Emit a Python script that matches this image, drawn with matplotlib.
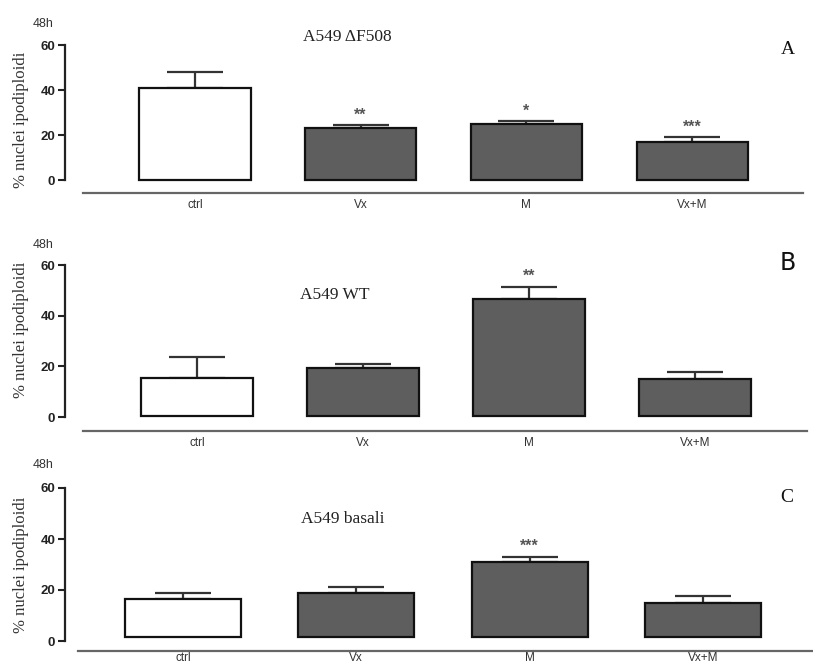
import matplotlib
matplotlib.use('Agg')
import matplotlib.pyplot as plt
import numpy as np

# data (48h, % hypodiploid nuclei)
categories = ['ctrl', 'Vx', 'M', 'Vx+M']
titles = ['A549 \u0394F508', 'A549 WT', 'A549 basali']
letters = ['A', 'B', 'C']

means_a = [40.8, 23.0, 24.8, 17.0]
err_a = [7.2, 1.4, 1.3, 2.0]
stars_a = ['', '**', '*', '***']

means_b = [15.3, 19.2, 46.7, 14.9]
err_b = [8.2, 1.6, 4.7, 2.7]
stars_b = ['', '', '**', '']

means_c = [16.5, 18.8, 31.0, 14.9]
err_c = [2.3, 2.4, 2.0, 2.7]
stars_c = ['', '', '***', '']

bar_bottoms = [0, 0.3, 1.5]

W, H = 813, 666
fig = plt.figure(figsize=(W / 100, H / 100), dpi=100)

# pixel layout of each panel: y of tick 60, y of tick 0, y of baseline,
# centre of first bar, bar spacing, baseline start/end x
layout = [
    dict(y60=45, y0=180, ybase=193, c0=195, step=165.7, xb0=83, xb1=803,
         title_xy=(347, 37), letter_xy=(788, 50), letter_font='Liberation Serif', letter_size=14,
         h48=24, ylab=120, xpad=4),
    dict(y60=265, y0=417, ybase=431, c0=197, step=166, xb0=83, xb1=807,
         title_xy=(335, 295), letter_xy=(788, 263), letter_font='Liberation Sans Narrow', letter_size=17,
         h48=245, ylab=330, xpad=4),
    dict(y60=488, y0=641, ybase=651, c0=183, step=173.3, xb0=78, xb1=812,
         title_xy=(343, 519), letter_xy=(787, 498), letter_font='Liberation Serif', letter_size=14,
         h48=465, ylab=565, xpad=1),
]

all_means = [means_a, means_b, means_c]
all_err = [err_a, err_b, err_c]
all_stars = [stars_a, stars_b, stars_c]

x_left, x_right = 65, 812
ind = np.arange(len(categories))

for k, L in enumerate(layout):
    ax = fig.add_axes([x_left / W, 1 - L['ybase'] / H,
                       (x_right - x_left) / W, (L['ybase'] - L['y60']) / H])
    ppu = (L['y0'] - L['y60']) / 60.0
    ax.set_ylim(-(L['ybase'] - L['y0']) / ppu, 60)
    xmin = (x_left - L['c0']) / L['step']
    xmax = (x_right - L['c0']) / L['step']
    ax.set_xlim(xmin, xmax)

    means = np.array(all_means[k])
    errs = np.array(all_err[k])
    b = bar_bottoms[k]
    colors = ['white', '#5e5e5e', '#5e5e5e', '#5e5e5e']
    ax.bar(ind, means - b, 0.67, bottom=b, color=colors, edgecolor='#111111',
           linewidth=1.6, zorder=2)
    ax.errorbar(ind, means, yerr=[np.zeros_like(errs), errs], fmt='none',
                ecolor='#333333', elinewidth=1.6, capsize=20, capthick=1.6, zorder=1)

    for i, s in enumerate(all_stars[k]):
        if s:
            ax.text(i, means[i] + errs[i] + 1.2, s, ha='center', va='bottom',
                    fontsize=11.5, fontweight='bold', color='#555555', family='Liberation Sans')

    for side in ['top', 'right']:
        ax.spines[side].set_visible(False)
    ax.spines['left'].set_bounds(0, 60)
    ax.spines['left'].set_linewidth(1.6)
    ax.spines['left'].set_color('#222222')
    ax.spines['bottom'].set_bounds((L['xb0'] - L['c0']) / L['step'], (L['xb1'] - L['c0']) / L['step'])
    ax.spines['bottom'].set_linewidth(1.6)
    ax.spines['bottom'].set_color('#666666')

    ax.set_yticks([0, 20, 40, 60])
    ax.tick_params(axis='y', length=5, width=1.5, color='#222222', pad=2)
    for t in ax.get_yticklabels():
        t.set_fontweight('bold')
        t.set_fontsize(9.5)
        t.set_family('Liberation Sans')
        t.set_color('#222222')
    ax.set_xticks(ind)
    ax.set_xticklabels(categories, fontsize=8.5, family='Liberation Sans', color='#333333')
    ax.tick_params(axis='x', length=0, pad=L['xpad'])
    ax.patch.set_alpha(0)

    fig.text(L['title_xy'][0] / W, 1 - L['title_xy'][1] / H, titles[k], ha='center', va='center',
             fontsize=12.5, family='Liberation Serif', color='#222222')
    fig.text(L['letter_xy'][0] / W, 1 - L['letter_xy'][1] / H, letters[k], ha='center', va='center',
             fontsize=L['letter_size'], family=L['letter_font'], color='#111111')
    fig.text(43 / W, 1 - L['h48'] / H, '48h', ha='center', va='center', fontsize=9,
             family='Liberation Sans', color='#333333')
    fig.text(21 / W, 1 - L['ylab'] / H, '% nuclei ipodiploidi', ha='center', va='center',
             rotation=90, fontsize=12, family='Liberation Serif', color='#333333')

fig.savefig('out.png', dpi=100)
